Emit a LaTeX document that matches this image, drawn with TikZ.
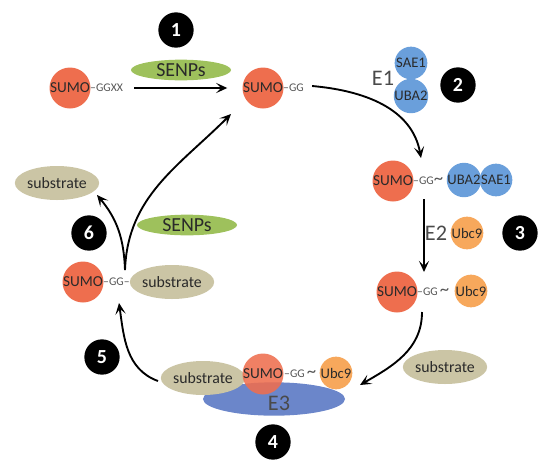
\documentclass[tikz,border=0pt]{standalone}
\usepackage{fontspec}
\setmainfont{Carlito}
\usetikzlibrary{arrows.meta,shapes.geometric}

\definecolor{sumocol}{HTML}{EE6E4E}
\definecolor{e1col}{HTML}{6A9FDB}
\definecolor{ubccol}{HTML}{F7A85C}
\definecolor{subcol}{HTML}{CBC5A5}
\definecolor{senpcol}{HTML}{9EC15C}
\definecolor{e3col}{HTML}{6B86CA}
\definecolor{txtcol}{HTML}{2A2A2A}

\begin{document}
\begin{tikzpicture}[
  x=0.03cm, y=-0.03cm,
  sumo/.style={
    circle,
    fill=sumocol,
    minimum size=1.22cm,
    inner sep=0pt,
    text=txtcol,
    font=\fontsize{13}{13}\selectfont
  },
  small/.style={
    circle,
    fill=#1,
    minimum size=0.98cm,
    inner sep=0pt,
    text=txtcol,
    font=\fontsize{12.5}{12.5}\selectfont
  },
  substrate/.style={
    ellipse,
    fill=subcol,
    minimum width=2.34cm,
    minimum height=1.02cm,
    inner sep=0pt,
    text=txtcol,
    font=\fontsize{13.5}{13.5}\selectfont
  },
  senps/.style={
    ellipse,
    fill=senpcol,
    minimum width=3.0cm,
    minimum height=0.62cm,
    inner sep=0pt,
    text=txtcol,
    font=\fontsize{17}{17}\selectfont
  },
  badge/.style={
    circle,
    fill=black,
    minimum size=1.06cm,
    inner sep=0pt,
    text=white,
    font=\bfseries\fontsize{17}{17}\selectfont
  },
  link/.style={
    inner sep=0pt,
    anchor=west,
    text=txtcol!80,
    font=\fontsize{10}{10}\selectfont
  },
  enzyme/.style={
    inner sep=0pt,
    text=txtcol!85,
    font=\fontsize{19}{19}\selectfont
  },
  edge/.style={
    -{Stealth[length=3.4mm,width=3.1mm,inset=1.6mm]},
    line width=1.6pt
  }
]

\path[use as bounding box] (0,0) rectangle (554,465);

% step 1: maturation
\node[badge] (b1) at (176,30) {1};
\node[sumo] (s0) at (70,88) {SUMO};
\node[link] (gg0) at (90,88) {–GGXX};
\node[senps] (senp0) at (181,70) {SENPs};
\node[sumo] (s1) at (263,88) {SUMO};
\node[link] (gg1) at (283,88) {–GG};

% step 2: E1
\node[enzyme] (e1) at (383,78) {E1};
\node[small=e1col] (sae0) at (411,63) {SAE1};
\node[small=e1col] (uba0) at (411,96) {UBA2};
\node[badge] (b2) at (458,85) {2};
\node[sumo] (s2) at (393,181) {SUMO};
\node[link] (gg2) at (413,181) {–GG{\fontsize{16}{16}\selectfont\textasciitilde}};
\node[small=e1col] (uba1) at (464,180) {UBA2};
\node[small=e1col] (sae1) at (496,180) {SAE1};

% step 3: E2
\node[enzyme] (e2) at (436,233) {E2};
\node[small=ubccol] (ubc0) at (467,233) {Ubc9};
\node[badge] (b3) at (520,233) {3};
\node[sumo] (s3) at (397,292) {SUMO};
\node[link] (gg3) at (417,292) {–GG\,{\fontsize{16}{16}\selectfont\textasciitilde}};
\node[small=ubccol] (ubc1) at (471,291) {Ubc9};

% step 4: E3
\node[substrate] (sub0) at (445,367) {substrate};
\node[ellipse, fill=e3col, minimum width=4.26cm, minimum height=1.0cm,
  inner sep=0pt] (e3) at (274,399) {};
\node[enzyme] (e3lab) at (279,403) {E3};
\node[substrate] (sub1) at (203,378) {substrate};
\node[sumo, fill opacity=0.88, text opacity=1] (s4) at (263,374) {SUMO};
\node[link] (gg4) at (284,374) {–GG\,{\fontsize{16}{16}\selectfont\textasciitilde}};
\node[small=ubccol] (ubc2) at (336,373) {Ubc9};
\node[badge] (b4) at (273,442) {4};

% step 5 and 6: conjugate and deconjugation
\node[badge] (b5) at (102,357) {5};
\node[sumo] (s5) at (83,282) {SUMO};
\node[link] (gg5) at (103,282) {–GG–};
\node[substrate] (sub2) at (172,282) {substrate};
\node[badge] (b6) at (89,233) {6};
\node[senps] (senp1) at (187,225) {SENPs};
\node[substrate] (sub3) at (57,183) {substrate};

\coordinate (a2end) at (421,158);
\coordinate (a3top) at (424,199);
\coordinate (a3bot) at (424,272);
\coordinate (a4top) at (422,312);
\coordinate (a4end) at (360,385);
\coordinate (a5start) at (158,381);
\coordinate (a5end) at (119,303);
\coordinate (a6start) at (125,270);
\coordinate (a6left) at (97,195);
\coordinate (a6right) at (231,114);

\draw[edge, shorten <=0.33cm, shorten >=0.45cm] (gg0.east) -- (s1.west);
\draw[edge] (gg1.east) ++(8,-2) to[out=-5,in=100] (a2end);
\draw[edge] (a3top) -- (a3bot);
\draw[edge] (a4top) to[out=-90,in=30] (a4end);
\draw[edge] (a5start) to[out=160,in=-82] (a5end);
\draw[edge] (a6start) to[out=92,in=-50] (a6left);
\draw[edge] (a6start) to[out=88,in=-135] (a6right);

\end{tikzpicture}
\end{document}
